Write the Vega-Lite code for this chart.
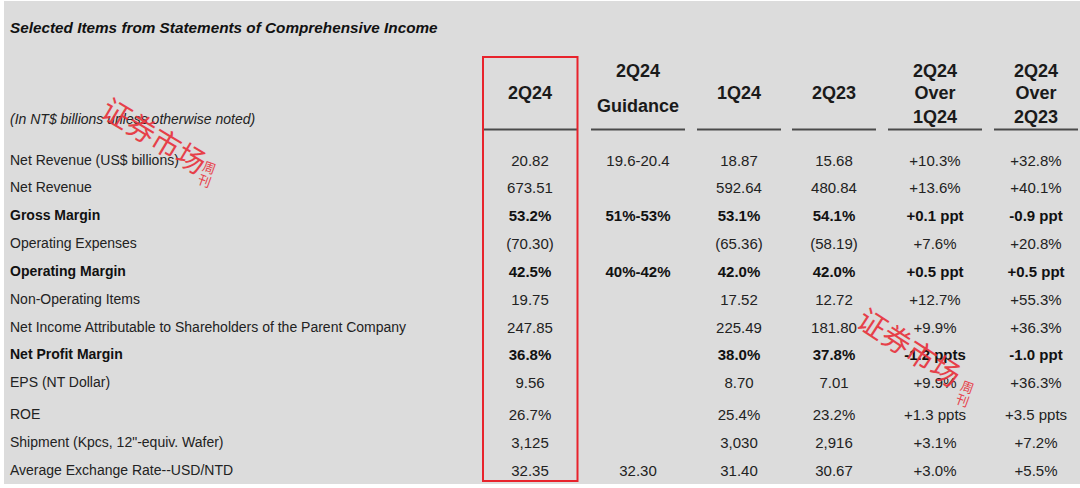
{
  "$schema": "https://vega.github.io/schema/vega-lite/v6.json",
  "width": 1080,
  "height": 488,
  "autosize": {"type": "fit", "contains": "padding"},
  "padding": {"left": 4, "top": 1, "right": 0, "bottom": 4},
  "background": "#ffffff",
  "view": {"fill": "#dcdcdc", "stroke": null},
  "config": {"font": "Liberation Sans"},
  "datasets": {
    "titles": [
      {"c": 0, "r": -7, "t": "Selected Items from Statements of Comprehensive Income", "kind": "title"},
      {"c": 0, "r": -1.5, "t": "(In NT$ billions unless otherwise noted)", "kind": "sub"}
    ],
    "headers": [
      {"c": 1, "r": -4, "t": "2Q24"},
      {"c": 2, "r": -5, "t": "2Q24"},
      {"c": 2, "r": -3, "t": "Guidance"},
      {"c": 3, "r": -4, "t": "1Q24"},
      {"c": 4, "r": -4, "t": "2Q23"},
      {"c": 5, "r": -5, "t": "2Q24"},
      {"c": 5, "r": -4, "t": "Over"},
      {"c": 5, "r": -2, "t": "1Q24"},
      {"c": 6, "r": -5, "t": "2Q24"},
      {"c": 6, "r": -4, "t": "Over"},
      {"c": 6, "r": -2, "t": "2Q23"}
    ],
    "underlines": [
      {"c": 1, "r": -1}, {"c": 2, "r": -1}, {"c": 3, "r": -1},
      {"c": 4, "r": -1}, {"c": 5, "r": -1}, {"c": 6, "r": -1}
    ],
    "box": [{"c0": 0.5, "c1": 1.5, "r0": -6, "r1": 13}],
    "cells": [
      {"r": 1, "c": 0, "t": "Net Revenue (US$ billions)"},
      {"r": 1, "c": 1, "t": "20.82"},
      {"r": 1, "c": 2, "t": "19.6-20.4"},
      {"r": 1, "c": 3, "t": "18.87"},
      {"r": 1, "c": 4, "t": "15.68"},
      {"r": 1, "c": 5, "t": "+10.3%"},
      {"r": 1, "c": 6, "t": "+32.8%"},
      {"r": 2, "c": 0, "t": "Net Revenue"},
      {"r": 2, "c": 1, "t": "673.51"},
      {"r": 2, "c": 3, "t": "592.64"},
      {"r": 2, "c": 4, "t": "480.84"},
      {"r": 2, "c": 5, "t": "+13.6%"},
      {"r": 2, "c": 6, "t": "+40.1%"},
      {"r": 3, "c": 0, "t": "Gross Margin"},
      {"r": 3, "c": 1, "t": "53.2%"},
      {"r": 3, "c": 2, "t": "51%-53%"},
      {"r": 3, "c": 3, "t": "53.1%"},
      {"r": 3, "c": 4, "t": "54.1%"},
      {"r": 3, "c": 5, "t": "+0.1 ppt"},
      {"r": 3, "c": 6, "t": "-0.9 ppt"},
      {"r": 4, "c": 0, "t": "Operating Expenses"},
      {"r": 4, "c": 1, "t": "(70.30)"},
      {"r": 4, "c": 3, "t": "(65.36)"},
      {"r": 4, "c": 4, "t": "(58.19)"},
      {"r": 4, "c": 5, "t": "+7.6%"},
      {"r": 4, "c": 6, "t": "+20.8%"},
      {"r": 5, "c": 0, "t": "Operating Margin"},
      {"r": 5, "c": 1, "t": "42.5%"},
      {"r": 5, "c": 2, "t": "40%-42%"},
      {"r": 5, "c": 3, "t": "42.0%"},
      {"r": 5, "c": 4, "t": "42.0%"},
      {"r": 5, "c": 5, "t": "+0.5 ppt"},
      {"r": 5, "c": 6, "t": "+0.5 ppt"},
      {"r": 6, "c": 0, "t": "Non-Operating Items"},
      {"r": 6, "c": 1, "t": "19.75"},
      {"r": 6, "c": 3, "t": "17.52"},
      {"r": 6, "c": 4, "t": "12.72"},
      {"r": 6, "c": 5, "t": "+12.7%"},
      {"r": 6, "c": 6, "t": "+55.3%"},
      {"r": 7, "c": 0, "t": "Net Income Attributable to Shareholders of the Parent Company"},
      {"r": 7, "c": 1, "t": "247.85"},
      {"r": 7, "c": 3, "t": "225.49"},
      {"r": 7, "c": 4, "t": "181.80"},
      {"r": 7, "c": 5, "t": "+9.9%"},
      {"r": 7, "c": 6, "t": "+36.3%"},
      {"r": 8, "c": 0, "t": "Net Profit Margin"},
      {"r": 8, "c": 1, "t": "36.8%"},
      {"r": 8, "c": 3, "t": "38.0%"},
      {"r": 8, "c": 4, "t": "37.8%"},
      {"r": 8, "c": 5, "t": "-1.2 ppts"},
      {"r": 8, "c": 6, "t": "-1.0 ppt"},
      {"r": 9, "c": 0, "t": "EPS (NT Dollar)"},
      {"r": 9, "c": 1, "t": "9.56"},
      {"r": 9, "c": 3, "t": "8.70"},
      {"r": 9, "c": 4, "t": "7.01"},
      {"r": 9, "c": 5, "t": "+9.9%"},
      {"r": 9, "c": 6, "t": "+36.3%"},
      {"r": 10, "c": 0, "t": "ROE"},
      {"r": 10, "c": 1, "t": "26.7%"},
      {"r": 10, "c": 3, "t": "25.4%"},
      {"r": 10, "c": 4, "t": "23.2%"},
      {"r": 10, "c": 5, "t": "+1.3 ppts"},
      {"r": 10, "c": 6, "t": "+3.5 ppts"},
      {"r": 11, "c": 0, "t": "Shipment (Kpcs, 12\"-equiv. Wafer)"},
      {"r": 11, "c": 1, "t": "3,125"},
      {"r": 11, "c": 3, "t": "3,030"},
      {"r": 11, "c": 4, "t": "2,916"},
      {"r": 11, "c": 5, "t": "+3.1%"},
      {"r": 11, "c": 6, "t": "+7.2%"},
      {"r": 12, "c": 0, "t": "Average Exchange Rate--USD/NTD"},
      {"r": 12, "c": 1, "t": "32.35"},
      {"r": 12, "c": 2, "t": "32.30"},
      {"r": 12, "c": 3, "t": "31.40"},
      {"r": 12, "c": 4, "t": "30.67"},
      {"r": 12, "c": 5, "t": "+3.0%"},
      {"r": 12, "c": 6, "t": "+5.5%"}
    ],
    "stamps": [
      {"c": 0, "r": 1, "t": "证券市场", "part": "main", "stamp": 1},
      {"c": 0, "r": 1, "t": "周\n刊", "part": "small", "stamp": 1},
      {"c": 4, "r": 8, "t": "证券市场", "part": "main", "stamp": 2},
      {"c": 4, "r": 8, "t": "周\n刊", "part": "small", "stamp": 2}
    ]
  },
  "encoding": {
    "x": {"field": "c", "type": "quantitative", "axis": null,
      "scale": {"domain": [0, 0.5, 1, 1.5, 2, 3, 4, 5, 6], "range": [6, 479, 526, 573.5, 634, 735, 830, 931, 1032], "nice": false, "zero": false}},
    "y": {"field": "r", "type": "quantitative", "axis": null,
      "scale": {"domain": [-7, -6, -5, -4, -3, -2, -1.5, -1, 1, 2, 3, 4, 5, 6, 7, 8, 9, 10, 11, 12, 13],
        "range": [27, 56, 71, 93, 106, 116.5, 119, 128.5, 159.5, 187.3, 215, 243, 271.3, 299, 327.3, 354, 381.7, 414, 442, 469.7, 480], "nice": false, "zero": false}}
  },
  "layer": [
    {
      "data": {"name": "titles"},
      "transform": [{"filter": "datum.kind == 'title'"}],
      "mark": {"type": "text", "align": "left", "baseline": "middle", "fontSize": 15.3, "fontWeight": "bold", "fontStyle": "italic", "color": "#111111"},
      "encoding": {"text": {"field": "t"}}
    },
    {
      "data": {"name": "titles"},
      "transform": [{"filter": "datum.kind == 'sub'"}],
      "mark": {"type": "text", "align": "left", "baseline": "middle", "fontSize": 14, "fontStyle": "italic", "color": "#222222"},
      "encoding": {"text": {"field": "t"}}
    },
    {
      "data": {"name": "headers"},
      "mark": {"type": "text", "align": "center", "baseline": "middle", "fontSize": 18, "fontWeight": "bold", "color": "#1a1a1a"},
      "encoding": {"text": {"field": "t"}}
    },
    {
      "data": {"name": "underlines"},
      "transform": [{"filter": {"field": "c", "oneOf": [1, 2, 5]}}],
      "mark": {"type": "tick", "orient": "horizontal", "size": 94, "thickness": 2, "color": "#4a4a4a", "opacity": 1}
    },
    {
      "data": {"name": "underlines"},
      "transform": [{"filter": {"field": "c", "oneOf": [3, 4, 6]}}],
      "mark": {"type": "tick", "orient": "horizontal", "size": 84, "thickness": 2, "color": "#4a4a4a", "opacity": 1}
    },
    {
      "data": {"name": "cells"},
      "transform": [{"filter": "datum.c == 0 && indexof([3, 5, 8], datum.r) < 0"}],
      "mark": {"type": "text", "align": "left", "baseline": "middle", "fontSize": 14, "color": "#222222"},
      "encoding": {"text": {"field": "t"}}
    },
    {
      "data": {"name": "cells"},
      "transform": [{"filter": "datum.c == 0 && indexof([3, 5, 8], datum.r) >= 0"}],
      "mark": {"type": "text", "align": "left", "baseline": "middle", "fontSize": 14, "fontWeight": "bold", "color": "#111111"},
      "encoding": {"text": {"field": "t"}}
    },
    {
      "data": {"name": "cells"},
      "transform": [{"filter": "datum.c > 0 && indexof([3, 5, 8], datum.r) < 0"}],
      "mark": {"type": "text", "align": "center", "baseline": "middle", "fontSize": 15, "color": "#222222"},
      "encoding": {"text": {"field": "t"}}
    },
    {
      "data": {"name": "cells"},
      "transform": [{"filter": "datum.c > 0 && indexof([3, 5, 8], datum.r) >= 0"}],
      "mark": {"type": "text", "align": "center", "baseline": "middle", "fontSize": 15, "fontWeight": "bold", "color": "#111111"},
      "encoding": {"text": {"field": "t"}}
    },
    {
      "data": {"name": "box"},
      "mark": {"type": "rect", "fillOpacity": 0, "stroke": "#e8232c", "strokeWidth": 2},
      "encoding": {
        "x": {"field": "c0", "type": "quantitative"},
        "x2": {"field": "c1"},
        "y": {"field": "r0", "type": "quantitative"},
        "y2": {"field": "r1"}
      }
    },
    {
      "data": {"name": "stamps"},
      "transform": [{"filter": "datum.stamp == 1 && datum.part == 'main'"}],
      "mark": {"type": "text", "align": "center", "baseline": "middle", "font": "Noto Sans CJK SC", "fontSize": 29, "fontWeight": "normal", "angle": 31, "color": "#e8303a", "opacity": 0.9, "xOffset": 143, "yOffset": -23},
      "encoding": {"text": {"field": "t"}}
    },
    {
      "data": {"name": "stamps"},
      "transform": [{"filter": "datum.stamp == 1 && datum.part == 'small'"}],
      "mark": {"type": "text", "align": "center", "baseline": "middle", "font": "Noto Sans CJK SC", "fontSize": 13, "lineBreak": "\n", "lineHeight": 14, "angle": 20, "color": "#e8303a", "opacity": 0.9, "xOffset": 199, "yOffset": 8},
      "encoding": {"text": {"field": "t"}}
    },
    {
      "data": {"name": "stamps"},
      "transform": [{"filter": "datum.stamp == 2 && datum.part == 'main'"}],
      "mark": {"type": "text", "align": "center", "baseline": "middle", "font": "Noto Sans CJK SC", "fontSize": 29, "fontWeight": "normal", "angle": 33, "color": "#e8303a", "opacity": 0.9, "xOffset": 74, "yOffset": -6},
      "encoding": {"text": {"field": "t"}}
    },
    {
      "data": {"name": "stamps"},
      "transform": [{"filter": "datum.stamp == 2 && datum.part == 'small'"}],
      "mark": {"type": "text", "align": "center", "baseline": "middle", "font": "Noto Sans CJK SC", "fontSize": 13, "lineBreak": "\n", "lineHeight": 14, "angle": 20, "color": "#e8303a", "opacity": 0.9, "xOffset": 133, "yOffset": 33},
      "encoding": {"text": {"field": "t"}}
    }
  ]
}
